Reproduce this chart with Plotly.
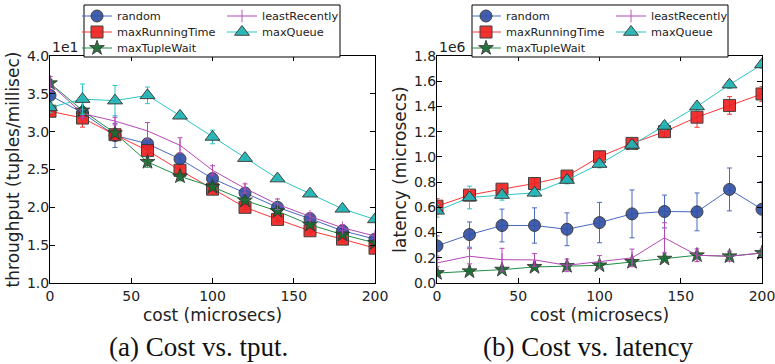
import plotly.graph_objects as go

cost = [0, 20, 40, 60, 80, 100, 120, 140, 160, 180, 200]

# Throughput (x1e1 tuples/millisec)
tput_random = [3.48, 3.25, 2.95, 2.84, 2.64, 2.38, 2.19, 2.00, 1.85, 1.69, 1.58]
tput_random_err = [0.05, 0.04, 0.16, 0.05, 0.05, 0.04, 0.03, 0.03, 0.03, 0.03, 0.03]
tput_maxRunningTime = [3.27, 3.18, 2.96, 2.75, 2.49, 2.24, 2.00, 1.84, 1.69, 1.58, 1.46]
tput_maxRunningTime_err = [0.04, 0.12, 0.04, 0.04, 0.04, 0.03, 0.03, 0.03, 0.03, 0.03, 0.03]
tput_maxTupleWait = [3.64, 3.28, 2.98, 2.60, 2.41, 2.27, 2.09, 1.95, 1.77, 1.64, 1.53]
tput_maxTupleWait_err = [0.05, 0.05, 0.04, 0.07, 0.06, 0.04, 0.03, 0.03, 0.03, 0.03, 0.03]
tput_leastRecently = [3.63, 3.24, 3.14, 3.01, 2.82, 2.49, 2.25, 2.04, 1.88, 1.73, 1.62]
tput_leastRecently_err = [0.10, 0.05, 0.05, 0.11, 0.10, 0.06, 0.06, 0.07, 0.05, 0.04, 0.03]
tput_maxQueue = [3.32, 3.43, 3.41, 3.48, 3.21, 2.93, 2.65, 2.38, 2.18, 1.98, 1.84]
tput_maxQueue_err = [0.07, 0.20, 0.20, 0.11, 0.03, 0.09, 0.02, 0.02, 0.02, 0.02, 0.02]

# Latency (x1e6 microsecs)
lat_random = [0.294, 0.384, 0.456, 0.456, 0.426, 0.479, 0.548, 0.567, 0.564, 0.742, 0.585]
lat_random_err = [0.08, 0.10, 0.13, 0.14, 0.13, 0.16, 0.19, 0.13, 0.15, 0.17, 0.22]
lat_maxRunningTime = [0.609, 0.697, 0.744, 0.789, 0.848, 1.001, 1.107, 1.200, 1.315, 1.408, 1.499]
lat_maxRunningTime_err = [0.06, 0.03, 0.03, 0.04, 0.03, 0.04, 0.03, 0.04, 0.08, 0.07, 0.06]
lat_maxTupleWait = [0.079, 0.093, 0.106, 0.127, 0.135, 0.140, 0.167, 0.193, 0.220, 0.212, 0.238]
lat_maxTupleWait_err = [0.015, 0.015, 0.015, 0.015, 0.015, 0.015, 0.015, 0.015, 0.015, 0.015, 0.015]
lat_leastRecently = [0.159, 0.212, 0.185, 0.183, 0.140, 0.167, 0.199, 0.358, 0.220, 0.212, 0.238]
lat_leastRecently_err = [0.03, 0.06, 0.09, 0.05, 0.05, 0.05, 0.07, 0.12, 0.05, 0.04, 0.03]
lat_maxQueue = [0.572, 0.678, 0.697, 0.715, 0.816, 0.943, 1.094, 1.245, 1.400, 1.573, 1.733]
lat_maxQueue_err = [0.05, 0.09, 0.04, 0.03, 0.03, 0.03, 0.03, 0.03, 0.03, 0.03, 0.03]

x_ticks = [0, 50, 100, 150, 200]
tput_ticks = [1.0, 1.5, 2.0, 2.5, 3.0, 3.5, 4.0]
lat_ticks = [0.0, 0.2, 0.4, 0.6, 0.8, 1.0, 1.2, 1.4, 1.6, 1.8]

W, H = 775, 364
FONT = "DejaVu Sans"

styles = {
    "random": dict(line="#4a68bd", fill="#3352a8", symbol="circle", size=12, edge="#333333"),
    "maxRunningTime": dict(line="#ff3535", fill="#ee2222", symbol="square", size=12, edge="#333333"),
    "maxTupleWait": dict(line="#1f8f45", fill="#176b30", symbol="star", size=11, edge="#333333"),
    "leastRecently": dict(line="#b548b5", fill="#b548b5", symbol="line-ns-open", size=9, edge="#b548b5"),
    "maxQueue": dict(line="#2cc5c5", fill="#1fb4b4", symbol="triangle-up", size=13, edge="#333333"),
}

fig = go.Figure()

def add(name, y, err, xa, ya, legend):
    s = styles[name]
    fig.add_trace(go.Scatter(
        x=cost, y=y, name=name, xaxis=xa, yaxis=ya, legend=legend,
        mode="lines+markers",
        line=dict(color=s["line"], width=1),
        marker=dict(symbol=s["symbol"], size=s["size"], color=s["fill"],
                    line=dict(color=s["edge"], width=1), opacity=0.92),
        error_y=dict(type="data", array=err, visible=True, color=s["line"], thickness=1, width=2.5),
    ))

# legend rows: row1 = random, leastRecently ; row2 = maxRunningTime, maxQueue ; row3 = maxTupleWait
left = [("random", tput_random, tput_random_err, "legend"),
        ("maxRunningTime", tput_maxRunningTime, tput_maxRunningTime_err, "legend2"),
        ("maxTupleWait", tput_maxTupleWait, tput_maxTupleWait_err, "legend3"),
        ("leastRecently", tput_leastRecently, tput_leastRecently_err, "legend"),
        ("maxQueue", tput_maxQueue, tput_maxQueue_err, "legend2")]
right = [("random", lat_random, lat_random_err, "legend4"),
         ("maxRunningTime", lat_maxRunningTime, lat_maxRunningTime_err, "legend5"),
         ("maxTupleWait", lat_maxTupleWait, lat_maxTupleWait_err, "legend6"),
         ("leastRecently", lat_leastRecently, lat_leastRecently_err, "legend4"),
         ("maxQueue", lat_maxQueue, lat_maxQueue_err, "legend5")]
for n, y, e, lg in left:
    add(n, y, e, "x", "y", lg)
for n, y, e, lg in right:
    add(n, y, e, "x2", "y2", lg)

def px_x(p):
    return p / W

def px_y(p):
    return 1 - p / H

ydom = [px_y(283), px_y(56)]
axis_common = dict(showline=True, linecolor="black", linewidth=1, mirror="ticks",
                   ticks="inside", ticklen=5, tickcolor="black", showgrid=False,
                   zeroline=False, automargin=False, ticklabeloverflow="allow",
                   tickfont=dict(family=FONT, size=14, color="#222"))

fig.update_layout(
    width=W, height=H, margin=dict(l=0, r=0, t=0, b=0, autoexpand=False),
    plot_bgcolor="white", paper_bgcolor="white",
    font=dict(family=FONT, color="#222"),
    xaxis=dict(domain=[px_x(50), px_x(375)], range=[0, 200], tickvals=x_ticks,
               anchor="y", title=dict(text="cost (microsecs)", font=dict(size=17), standoff=6),
               **axis_common),
    yaxis=dict(domain=ydom, range=[1.0, 4.0], tickvals=tput_ticks,
               ticktext=[f"{v:.1f}" for v in tput_ticks], anchor="x", ticklabelstandoff=-3,
               title=dict(text="throughput (tuples/millisec)", font=dict(size=17), standoff=2),
               **axis_common),
    xaxis2=dict(domain=[px_x(437), px_x(762)], range=[0, 200], tickvals=x_ticks,
                anchor="y2", title=dict(text="cost (microsecs)", font=dict(size=17), standoff=6),
                **axis_common),
    yaxis2=dict(domain=ydom, range=[0, 1.8], tickvals=lat_ticks,
                ticktext=[f"{v:.1f}" for v in lat_ticks], anchor="x2", ticklabelstandoff=-3,
                title=dict(text="latency (microsecs)", font=dict(size=17), standoff=2),
                **axis_common),
)

leg_common = dict(orientation="h", yanchor="middle", xanchor="left", bgcolor="rgba(0,0,0,0)",
                  borderwidth=0, font=dict(family=FONT, size=11.3, color="#222"),
                  itemwidth=30, entrywidth=100, entrywidthmode="pixels")
rows_y = [16, 32, 48]
for i, ry in enumerate(rows_y):
    fig.update_layout({f"legend{'' if i == 0 else i + 1}": dict(x=px_x(77), y=px_y(ry), **leg_common)})
    fig.update_layout({f"legend{i + 4}": dict(x=px_x(466), y=px_y(ry), **leg_common)})

# legend frames
for x0, x1 in [(84, 340), (472, 728)]:
    fig.add_shape(type="rect", xref="paper", yref="paper",
                  x0=px_x(x0), x1=px_x(x1), y0=px_y(57), y1=px_y(5),
                  line=dict(color="black", width=1), fillcolor="white", layer="above")

# offset labels and captions
for xp, txt in [(50, "1e1"), (437, "1e6")]:
    fig.add_annotation(x=px_x(xp), y=px_y(57), xref="paper", yref="paper", text=txt,
                       showarrow=False, xanchor="left", yanchor="bottom",
                       font=dict(family=FONT, size=14, color="#222"))
for xp, txt in [(198, "(a) Cost vs. tput."), (588, "(b) Cost vs. latency")]:
    fig.add_annotation(x=px_x(xp), y=px_y(347), xref="paper", yref="paper", text=txt,
                       showarrow=False, xanchor="center", yanchor="middle",
                       font=dict(family="Liberation Serif", size=27, color="#111"))

fig.write_html("out.html", config={"displayModeBar": False},
               post_script="document.body.style.margin='0px';document.body.style.overflow='hidden';")
